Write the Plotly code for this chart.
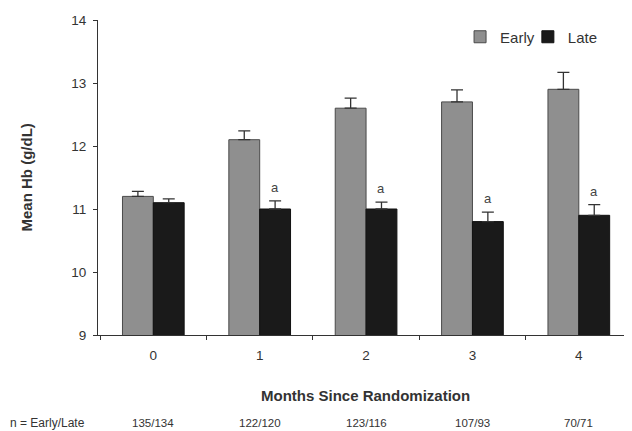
import plotly.graph_objects as go

months = ["0", "1", "2", "3", "4"]
early = [11.2, 12.1, 12.6, 12.7, 12.9]
late = [11.1, 11.0, 11.0, 10.8, 10.9]
early_err = [0.08, 0.14, 0.16, 0.19, 0.27]
late_err = [0.06, 0.13, 0.11, 0.15, 0.17]
sig = ["", "a", "a", "a", "a"]
n_labels = ["135/134", "122/120", "123/116", "107/93", "70/71"]

FONT = "Liberation Sans, Arial, sans-serif"
TXT = "#333333"

fig = go.Figure()
fig.add_trace(go.Bar(
    x=months, y=early, name="Early", legend="legend",
    marker=dict(color="#8f8f8f", line=dict(color="#4a4a4a", width=1)),
    error_y=dict(type="data", array=early_err, arrayminus=[0]*5, symmetric=False,
                 color="#333333", thickness=1.3, width=6),
))
fig.add_trace(go.Bar(
    x=months, y=late, name="Late", legend="legend2",
    marker=dict(color="#1a1a1a", line=dict(color="#111111", width=1)),
    error_y=dict(type="data", array=late_err, arrayminus=[0]*5, symmetric=False,
                 color="#333333", thickness=1.3, width=6),
))

PW = 534.0  # plot width in px
PH = 315.0  # plot height in px

annotations = []
for i, (s, v, e) in enumerate(zip(sig, late, late_err)):
    if s:
        annotations.append(dict(x=i + 0.145, y=v + e, xref="x", yref="y", text=s,
                                showarrow=False, yanchor="bottom", yshift=4,
                                font=dict(family=FONT, size=13, color="#444444")))
for i, t in enumerate(n_labels):
    annotations.append(dict(x=i, y=-88 / PH, xref="x", yref="paper", text=t,
                            showarrow=False, yanchor="middle",
                            font=dict(family=FONT, size=11.5, color=TXT)))
annotations.append(dict(x=-90 / PW, y=-88 / PH, xref="paper", yref="paper",
                        text="n = Early/Late", showarrow=False, xanchor="left",
                        yanchor="middle", font=dict(family=FONT, size=12, color=TXT)))
annotations.append(dict(x=0.5, y=-60 / PH, xref="paper", yref="paper",
                        text="<b>Months Since Randomization</b>", showarrow=False,
                        yanchor="middle", font=dict(family=FONT, size=15, color=TXT)))
annotations.append(dict(x=-72 / PW, y=0.5, xref="paper", yref="paper",
                        text="<b>Mean Hb (g/dL)</b>", showarrow=False, textangle=-90,
                        xanchor="center", yanchor="middle",
                        font=dict(family=FONT, size=15, color=TXT)))

legend_style = dict(orientation="h", y=1 - 17 / PH, xanchor="left", yanchor="middle",
                    font=dict(family=FONT, size=15, color=TXT),
                    bgcolor="rgba(0,0,0,0)", itemwidth=30)

fig.update_layout(
    width=624, height=423,
    margin=dict(l=90, r=0, t=12, b=96, autoexpand=False),
    paper_bgcolor="white", plot_bgcolor="white",
    barmode="group", bargap=0.42, bargroupgap=0,
    showlegend=True,
    legend=dict(x=0.678, **legend_style),
    legend2=dict(x=0.805, **legend_style),
    font=dict(family=FONT, color=TXT),
    annotations=annotations,
    xaxis=dict(type="category", tickson="boundaries", ticks="outside", ticklen=4,
               tickcolor="#333333", showline=True, linecolor="#333333", linewidth=1,
               showgrid=False, tickfont=dict(family=FONT, size=13.5, color=TXT),
               ticklabelstandoff=8, range=[-0.52, 4.5]),
    yaxis=dict(range=[9, 14], tickvals=[9, 10, 11, 12, 13, 14], ticks="outside",
               ticklen=4, tickcolor="#333333", showline=True, linecolor="#333333",
               linewidth=1, showgrid=False, zeroline=False, ticklabelstandoff=4,
               tickfont=dict(family=FONT, size=13.5, color=TXT)),
)

fig.write_html("out.html")
